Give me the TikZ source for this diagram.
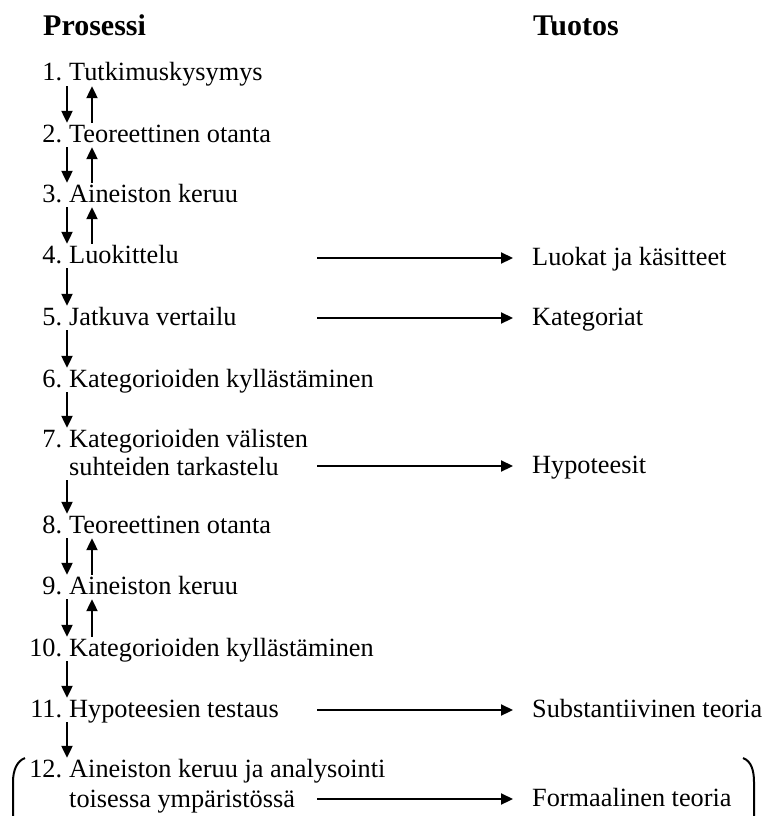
\documentclass[tikz,border=0pt]{standalone}
\usepackage{fontspec}
\setmainfont{Liberation Serif}
\usetikzlibrary{arrows.meta}
\begin{document}
\begin{tikzpicture}[x=1pt,y=-1pt,
  item/.style={anchor=base west, inner sep=0pt, text height=19pt, text depth=5pt, font=\fontsize{26.3}{30}\selectfont},
  num/.style={anchor=base east, inner sep=0pt, font=\fontsize{26.3}{30}\selectfont},
  head/.style={anchor=base west, inner sep=0pt, font=\fontsize{30}{34}\selectfont\bfseries},
  conn/.style={line width=2.2pt, -{Triangle[length=12pt,width=11pt]}},
  brack/.style={line width=2pt}]
\useasboundingbox (0,0) rectangle (766,816);
% headings
\node[head] (hp) at (43,36) {Prosessi};
\node[head] (ht) at (533,36) {Tuotos};
% process items
\node[item] (t1) at (69,81) {Tutkimuskysymys};
\node[item] (t2) at (69,142) {Teoreettinen otanta};
\node[item] (t3) at (69,202) {Aineiston keruu};
\node[item] (t4) at (69,263) {Luokittelu};
\node[item] (t5) at (69,325) {Jatkuva vertailu};
\node[item] (t6) at (69,387) {Kategorioiden kyllästäminen};
\node[item] (t7a) at (69,447) {Kategorioiden välisten};
\node[item] (t7b) at (69,475) {suhteiden tarkastelu};
\node[item] (t8) at (69,533) {Teoreettinen otanta};
\node[item] (t9) at (69,594) {Aineiston keruu};
\node[item] (t10) at (69,656) {Kategorioiden kyllästäminen};
\node[item] (t11) at (69,717) {Hypoteesien testaus};
\node[item] (t12a) at (69,777) {Aineiston keruu ja analysointi};
\node[item] (t12b) at (69,807) {toisessa ympäristössä};
% numbers
\node[num] (n1) at ([xshift=-6.6pt]t1.base west) {1.};
\node[num] (n2) at ([xshift=-6.6pt]t2.base west) {2.};
\node[num] (n3) at ([xshift=-6.6pt]t3.base west) {3.};
\node[num] (n4) at ([xshift=-6.6pt]t4.base west) {4.};
\node[num] (n5) at ([xshift=-6.6pt]t5.base west) {5.};
\node[num] (n6) at ([xshift=-6.6pt]t6.base west) {6.};
\node[num] (n7) at ([xshift=-6.6pt]t7a.base west) {7.};
\node[num] (n8) at ([xshift=-6.6pt]t8.base west) {8.};
\node[num] (n9) at ([xshift=-6.6pt]t9.base west) {9.};
\node[num] (n10) at ([xshift=-6.6pt]t10.base west) {10.};
\node[num] (n11) at ([xshift=-6.6pt]t11.base west) {11.};
\node[num] (n12) at ([xshift=-6.6pt]t12a.base west) {12.};
% outputs
\node[item] (r4) at (532,265) {Luokat ja käsitteet};
\node[item] (r5) at (532,325) {Kategoriat};
\node[item] (r7) at (532,473) {Hypoteesit};
\node[item] (r11) at (532,717) {Substantiivinen teoria};
\node[item] (r12) at (532,806) {Formaalinen teoria};
% down arrows
\draw[conn] ([xshift=-2pt]t1.south west) -- ([xshift=-2pt]t2.north west);
\draw[conn] ([xshift=-2pt]t2.south west) -- ([xshift=-2pt]t3.north west);
\draw[conn] ([xshift=-2pt]t3.south west) -- ([xshift=-2pt]t4.north west);
\draw[conn] ([xshift=-2pt]t4.south west) -- ([xshift=-2pt]t5.north west);
\draw[conn] ([xshift=-2pt]t5.south west) -- ([xshift=-2pt]t6.north west);
\draw[conn] ([xshift=-2pt]t6.south west) -- ([xshift=-2pt]t7a.north west);
\draw[conn] ([xshift=-2pt]t7b.south west) -- ([xshift=-2pt]t8.north west);
\draw[conn] ([xshift=-2pt]t8.south west) -- ([xshift=-2pt]t9.north west);
\draw[conn] ([xshift=-2pt]t9.south west) -- ([xshift=-2pt]t10.north west);
\draw[conn] ([xshift=-2pt]t10.south west) -- ([xshift=-2pt]t11.north west);
\draw[conn] ([xshift=-2pt]t11.south west) -- ([xshift=-2pt]t12a.north west);
% up arrows
\draw[conn] ([xshift=23pt]t2.north west) -- ([xshift=23pt]t1.south west);
\draw[conn] ([xshift=23pt]t3.north west) -- ([xshift=23pt]t2.south west);
\draw[conn] ([xshift=23pt]t4.north west) -- ([xshift=23pt]t3.south west);
\draw[conn] ([xshift=23pt]t9.north west) -- ([xshift=23pt]t8.south west);
\draw[conn] ([xshift=23pt]t10.north west) -- ([xshift=23pt]t9.south west);
% output arrows
\draw[conn] ([xshift=-215pt]r4.west) -- ([xshift=-19pt]r4.west);
\draw[conn] ([xshift=-215pt]r5.west) -- ([xshift=-19pt]r5.west);
\draw[conn] ([xshift=-215pt]r7.west) -- ([xshift=-19pt]r7.west);
\draw[conn] ([xshift=-215pt]r11.west) -- ([xshift=-19pt]r11.west);
\draw[conn] ([xshift=-215pt]r12.west) -- ([xshift=-19pt]r12.west);
% brackets
\draw[brack] (25,758) .. controls (17,761) and (13,770) .. (13,782) -- (13,822);
\draw[brack] (743,758) .. controls (751,761) and (754,770) .. (754,782) -- (754,822);
\end{tikzpicture}
\end{document}
